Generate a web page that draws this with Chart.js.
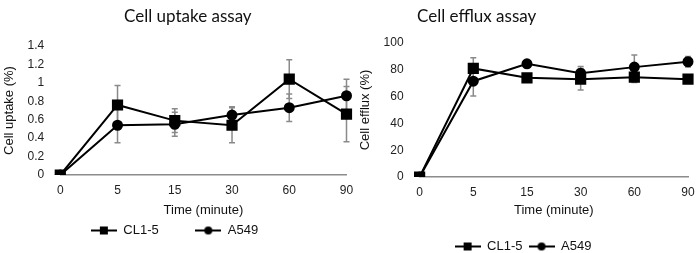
<!DOCTYPE html>
<html>
<head>
<meta charset="utf-8">
<script src="https://cdn.jsdelivr.net/npm/chart.js@4.4.0/dist/chart.umd.min.js"></script>
<style>
  body { margin: 0; background: #fff; }
  .wrap { position: relative; width: 700px; height: 253px; overflow: hidden; }
  .box { position: absolute; top: 0; height: 253px; }
  .ttl { position: absolute; top: 5px; font-family: Lato, sans-serif; font-size: 17px; color: #111; white-space: nowrap; }
</style>
</head>
<body>
<div class="wrap">
  <div class="box" style="left:0;width:355px"><canvas id="uptake"></canvas></div>
  <div class="box" style="left:352px;width:348px"><canvas id="efflux"></canvas></div>
  <div class="ttl" style="left:124px">Cell uptake assay</div>
  <div class="ttl" style="left:417px">Cell efflux assay</div>
</div>
<script>
const timeLabels = ['0', '5', '15', '30', '60', '90'];
const seriesNames = ['CL1-5', 'A549'];

const uptakeCL15 = [0, 0.76, 0.59, 0.54, 1.04, 0.66];
const uptakeCL15Err = [0, 0.21, 0.13, 0.19, 0.21, 0.30];
const uptakeA549 = [0, 0.54, 0.55, 0.65, 0.73, 0.86];
const uptakeA549Err = [0, 0.19, 0.13, 0.09, 0.15, 0.18];

const effluxCL15 = [0, 81, 74, 73, 74.5, 73];
const effluxCL15Err = [0, 8, 0, 8, 4, 0];
const effluxA549 = [0, 71.5, 84.5, 77.5, 82, 86];
const effluxA549Err = [0, 11, 0, 5, 9, 4];

const FONT = "'Liberation Sans', Arial, sans-serif";

// small line+marker image used as the legend symbol
function legendIcon(shape) {
  const c = document.createElement('canvas');
  c.width = 26; c.height = 10;
  const g = c.getContext('2d');
  g.strokeStyle = '#000'; g.lineWidth = 2;
  g.beginPath(); g.moveTo(0, 5); g.lineTo(26, 5); g.stroke();
  g.fillStyle = '#000';
  if (shape === 'rect') g.fillRect(9, 1, 8, 8);
  else { g.beginPath(); g.arc(13, 5, 4, 0, Math.PI * 2); g.fill(); }
  return c;
}

const errorBars = {
  id: 'errorBars',
  beforeDatasetsDraw(chart) {
    const ctx = chart.ctx;
    const y = chart.scales.y;
    ctx.save();
    ctx.strokeStyle = '#8a8a8a';
    ctx.lineWidth = 1.5;
    chart.data.datasets.forEach((ds, i) => {
      const meta = chart.getDatasetMeta(i);
      meta.data.forEach((pt, j) => {
        const e = ds.errors[j];
        if (!e) return;
        const top = y.getPixelForValue(ds.data[j] + e);
        const bot = y.getPixelForValue(ds.data[j] - e);
        ctx.beginPath();
        ctx.moveTo(pt.x, top); ctx.lineTo(pt.x, bot);
        ctx.moveTo(pt.x - 3, top); ctx.lineTo(pt.x + 3, top);
        ctx.moveTo(pt.x - 3, bot); ctx.lineTo(pt.x + 3, bot);
        ctx.stroke();
      });
    });
    ctx.restore();
  }
};

function makeChart(id, a, aErr, b, bErr, yMax, yStep, yTitle, pad, legendPad, xTitlePad, firstLabel) {
  return new Chart(document.getElementById(id), {
    type: 'line',
    data: {
      labels: timeLabels,
      datasets: [
        { label: seriesNames[0], data: a, errors: aErr, borderColor: '#000', backgroundColor: '#000',
          borderWidth: 2, pointStyle: 'rect', pointRadius: 6.5, tension: 0, icon: legendIcon('rect') },
        { label: seriesNames[1], data: b, errors: bErr, borderColor: '#000', backgroundColor: '#000',
          borderWidth: 2, pointStyle: 'circle', pointRadius: 4.5, tension: 0, icon: legendIcon('circle') }
      ]
    },
    options: {
      responsive: false,
      animation: false,
      layout: { padding: pad },
      plugins: {
        tooltip: { enabled: false },
        legend: {
          position: 'bottom',
          labels: {
            usePointStyle: true,
            pointStyleWidth: 26,
            padding: legendPad,
            color: '#111',
            font: { family: FONT, size: 13 },
            generateLabels(chart) {
              return chart.data.datasets.map((ds, i) => ({
                text: i === 0 ? firstLabel : ds.label, pointStyle: ds.icon, datasetIndex: i,
                fillStyle: '#000', strokeStyle: '#000', lineWidth: 0, fontColor: '#111'
              }));
            }
          }
        }
      },
      scales: {
        x: {
          offset: false,
          grid: { display: false },
          border: { display: true, color: '#8c8c8c', width: 1.5 },
          ticks: { color: '#222', font: { family: FONT, size: 12 }, maxRotation: 0, padding: 0 },
          title: { display: true, text: 'Time (minute)', color: '#111', font: { family: FONT, size: 13 }, padding: xTitlePad }
        },
        y: {
          min: 0, max: yMax,
          grid: { display: false },
          border: { display: false },
          ticks: { stepSize: yStep, autoSkip: false, color: '#222', font: { family: FONT, size: 12 }, padding: 8,
            callback: v => String(Math.round(v * 10) / 10) },
          title: { display: true, text: yTitle, color: '#111', font: { family: FONT, size: 13 }, padding: { top: 0, bottom: 2 } }
        }
      }
    },
    plugins: [errorBars]
  });
}

const c1 = document.getElementById('uptake'); c1.width = 355; c1.height = 253;
const c2 = document.getElementById('efflux'); c2.width = 348; c2.height = 253;

makeChart('uptake', uptakeCL15, uptakeCL15Err, uptakeA549, uptakeA549Err, 1.4, 0.2, 'Cell uptake (%)',
  { top: 46, right: 8, left: 2, bottom: 6 }, 4, { top: 5, bottom: 2 }, seriesNames[0] + '\u00a0'.repeat(9));
makeChart('efflux', effluxCL15, effluxCL15Err, effluxA549, effluxA549Err, 100, 20, 'Cell efflux (%)',
  { top: 43, right: 12, left: 6, bottom: -10 }, 6, { top: 3, bottom: 16 }, seriesNames[0]);
</script>
</body>
</html>
